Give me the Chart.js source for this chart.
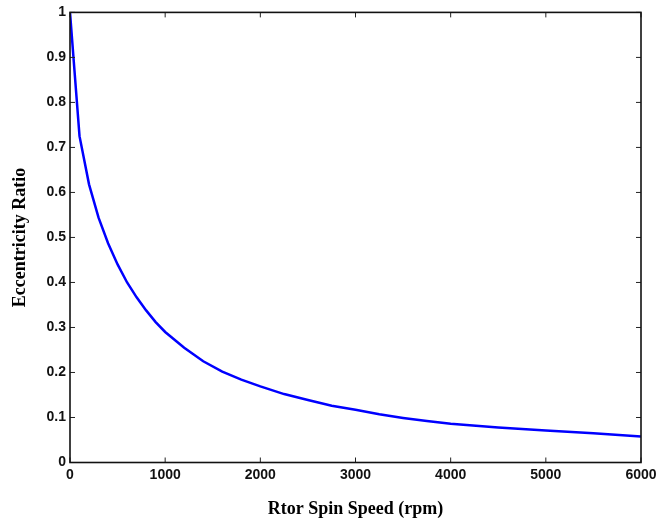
<!DOCTYPE html>
<html>
<head>
<meta charset="utf-8">
<script src="https://cdn.jsdelivr.net/npm/chart.js@4/dist/chart.umd.min.js"></script>
<style>
  html, body { margin: 0; padding: 0; background: #fff; }
  #wrap { width: 670px; height: 525px; }
</style>
</head>
<body>
<div id="wrap"><canvas id="myChart" width="670" height="525"></canvas></div>
<script>
// rotor speed (rpm) and eccentricity ratio
const speed = [0, 100, 200, 300, 400, 500, 600, 700, 800, 900, 1000,
    1200, 1400, 1600, 1800, 2000, 2250, 2500, 2750, 3000, 3250, 3500,
    3750, 4000, 4500, 5000, 5500, 6000];
const eccentricity = [1.0, 0.725, 0.618, 0.544, 0.487, 0.440, 0.400, 0.367, 0.338, 0.312, 0.290,
    0.255, 0.225, 0.202, 0.184, 0.169, 0.152, 0.139, 0.126, 0.117, 0.107, 0.099,
    0.092, 0.086, 0.078, 0.071, 0.065, 0.058];

const xTicks = [0, 1000, 2000, 3000, 4000, 5000, 6000];
const yTicks = [0, 0.1, 0.2, 0.3, 0.4, 0.5, 0.6, 0.7, 0.8, 0.9, 1];

const xTitle = 'Rtor Spin Speed (rpm)';
const yTitle = 'Eccentricity Ratio';

const tickFont = { family: '"Liberation Sans", Arial, sans-serif', size: 14, weight: 'bold' };
const titleFont = { family: '"Liberation Serif", "Times New Roman", serif', size: 18, weight: 'bold' };

// matlab style box with inward ticks on all four sides
const boxPlugin = {
    id: 'box',
    afterDraw(chart) {
        const ctx = chart.ctx;
        const a = chart.chartArea;
        const xs = chart.scales.x;
        const ys = chart.scales.y;
        const len = 5;
        ctx.save();
        ctx.strokeStyle = '#222';
        ctx.lineWidth = 1;
        ctx.beginPath();
        xTicks.forEach(v => {
            const px = xs.getPixelForValue(v);
            ctx.moveTo(px, a.bottom); ctx.lineTo(px, a.bottom - len);
            ctx.moveTo(px, a.top); ctx.lineTo(px, a.top + len);
        });
        yTicks.forEach(v => {
            const py = ys.getPixelForValue(v);
            ctx.moveTo(a.left, py); ctx.lineTo(a.left + len, py);
            ctx.moveTo(a.right, py); ctx.lineTo(a.right - len, py);
        });
        ctx.stroke();
        ctx.lineWidth = 1.6;
        ctx.strokeStyle = '#111';
        ctx.strokeRect(a.left, a.top, a.right - a.left, a.bottom - a.top);
        ctx.restore();
    }
};

const ctx = document.getElementById('myChart').getContext('2d');
new Chart(ctx, {
    type: 'line',
    data: {
        datasets: [{
            data: speed.map((s, i) => ({ x: s, y: eccentricity[i] })),
            borderColor: 'rgb(0, 0, 255)',
            borderWidth: 2.5,
            pointRadius: 0,
            tension: 0,
            fill: false
        }]
    },
    options: {
        responsive: false,
        animation: false,
        devicePixelRatio: 1,
        layout: { padding: { top: 10, right: 29, left: 0, bottom: 0 } },
        plugins: {
            legend: { display: false },
            tooltip: { enabled: false }
        },
        scales: {
            x: {
                type: 'linear',
                min: 0,
                max: 6000,
                afterFit(scale) { scale.height = 62.5; },
                afterBuildTicks(scale) { scale.ticks = xTicks.map(v => ({ value: v })); },
                grid: { display: false, drawTicks: false },
                border: { display: false },
                ticks: {
                    autoSkip: false,
                    maxRotation: 0,
                    padding: 4,
                    color: '#111',
                    font: tickFont,
                    callback: v => String(v)
                },
                title: {
                    display: true,
                    text: xTitle,
                    color: '#000',
                    font: titleFont,
                    padding: { top: 0, bottom: 5 }
                }
            },
            y: {
                type: 'linear',
                min: 0,
                max: 1,
                afterFit(scale) { scale.width = 70; },
                afterBuildTicks(scale) { scale.ticks = yTicks.map(v => ({ value: v })); },
                grid: { display: false, drawTicks: false },
                border: { display: false },
                ticks: {
                    autoSkip: false,
                    padding: 4,
                    color: '#111',
                    font: tickFont,
                    callback: v => String(Number(v.toFixed(1)))
                },
                title: {
                    display: true,
                    text: yTitle,
                    color: '#000',
                    font: titleFont,
                    padding: { top: 10, bottom: 0 }
                }
            }
        }
    },
    plugins: [boxPlugin]
});
</script>
</body>
</html>
